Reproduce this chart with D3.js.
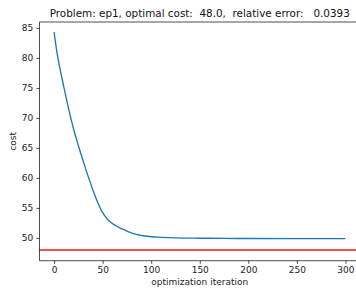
<!DOCTYPE html>
<html>
<head>
<meta charset="utf-8">
<script src="https://cdn.jsdelivr.net/npm/d3@7"></script>
<style>
  body { margin: 0; background: #fff; }
  svg { display: block; font-family: "DejaVu Sans", sans-serif; }
</style>
</head>
<body>
<div id="chart"></div>
<script>
const W = 356, H = 293;
const margin = {top: 22, right: -4, bottom: 32.3, left: 39.5};
const width = W - margin.left - margin.right,
      height = H - margin.top - margin.bottom;

// Data
const iterations = [0, 3, 6, 10, 15, 20, 25, 30, 35, 40, 45, 50, 55, 60, 65, 70, 80, 90, 100, 110, 125, 150, 175, 200, 250, 300];
const costs = [84.3, 80.9, 78.3, 75.2, 71.5, 68.2, 65.4, 62.8, 60.3, 58.0, 55.9, 54.2, 53.1, 52.4, 51.9, 51.5, 50.8, 50.4, 50.2, 50.1, 50.0, 49.95, 49.92, 49.9, 49.89, 49.89];
const optimalCost = 48.0;
const relativeError = 0.0393;
const xTicks = [0, 50, 100, 150, 200, 250, 300];
const yTicks = [50, 55, 60, 65, 70, 75, 80, 85];

const series = iterations.map((it, i) => ({it: it, cost: costs[i]}));

const svg = d3.select("#chart")
  .append("svg")
    .attr("width", W)
    .attr("height", H);

const g = svg.append("g")
    .attr("transform", `translate(${margin.left},${margin.top})`);

const x = d3.scaleLinear()
  .domain([-15, 315])
  .range([0, width]);

const y = d3.scaleLinear()
  .domain([46.2, 85.99])
  .range([height, 0]);

// optimal cost line
g.append("line")
  .attr("x1", 0)
  .attr("x2", width)
  .attr("y1", y(optimalCost))
  .attr("y2", y(optimalCost))
  .attr("stroke", "#ff4d4d")
  .attr("stroke-width", 2);

// cost curve
g.append("path")
  .datum(series)
  .attr("fill", "none")
  .attr("stroke", "#1f77b4")
  .attr("stroke-width", 1.35)
  .attr("d", d3.line()
    .curve(d3.curveMonotoneX)
    .x(d => x(d.it))
    .y(d => y(d.cost)));

// axes
const xAxis = g.append("g")
  .attr("transform", `translate(0,${height})`)
  .call(d3.axisBottom(x).tickValues(xTicks).tickSize(3.1).tickPadding(3.1).tickFormat(d3.format("d")));

const yAxis = g.append("g")
  .call(d3.axisLeft(y).tickValues(yTicks).tickSize(3.1).tickPadding(3.1).tickFormat(d3.format("d")));

g.selectAll(".domain").remove();
g.selectAll(".tick line").attr("stroke", "#000").attr("stroke-width", 0.7);
g.selectAll(".tick text").attr("fill", "#222").style("font-size", "9px").style("font-family", "DejaVu Sans");

// spines
g.append("line").attr("x1", 0).attr("x2", 0).attr("y1", 0).attr("y2", height)
  .attr("stroke", "#000").attr("stroke-width", 0.7);
g.append("line").attr("x1", 0).attr("x2", width).attr("y1", height).attr("y2", height)
  .attr("stroke", "#000").attr("stroke-width", 0.7);
g.append("line").attr("x1", 0).attr("x2", width).attr("y1", 0).attr("y2", 0)
  .attr("stroke", "#000").attr("stroke-width", 0.7);

// labels
svg.append("text")
  .attr("x", margin.left + width / 2)
  .attr("y", 285)
  .attr("text-anchor", "middle")
  .style("font-size", "9px")
  .attr("fill", "#222")
  .text("optimization iteration");

svg.append("text")
  .attr("transform", `translate(16,${margin.top + height / 2}) rotate(-90)`)
  .attr("text-anchor", "middle")
  .style("font-size", "9px")
  .attr("fill", "#222")
  .text("cost");

svg.append("text")
  .attr("x", margin.left + width / 2)
  .attr("y", 16.5)
  .attr("text-anchor", "middle")
  .attr("xml:space", "preserve")
  .style("white-space", "pre")
  .style("font-size", "10.4px")
  .attr("fill", "#111")
  .text(`Problem: ep1, optimal cost:  ${optimalCost.toFixed(1)},  relative error:   ${relativeError.toFixed(4)}`);
</script>
</body>
</html>
